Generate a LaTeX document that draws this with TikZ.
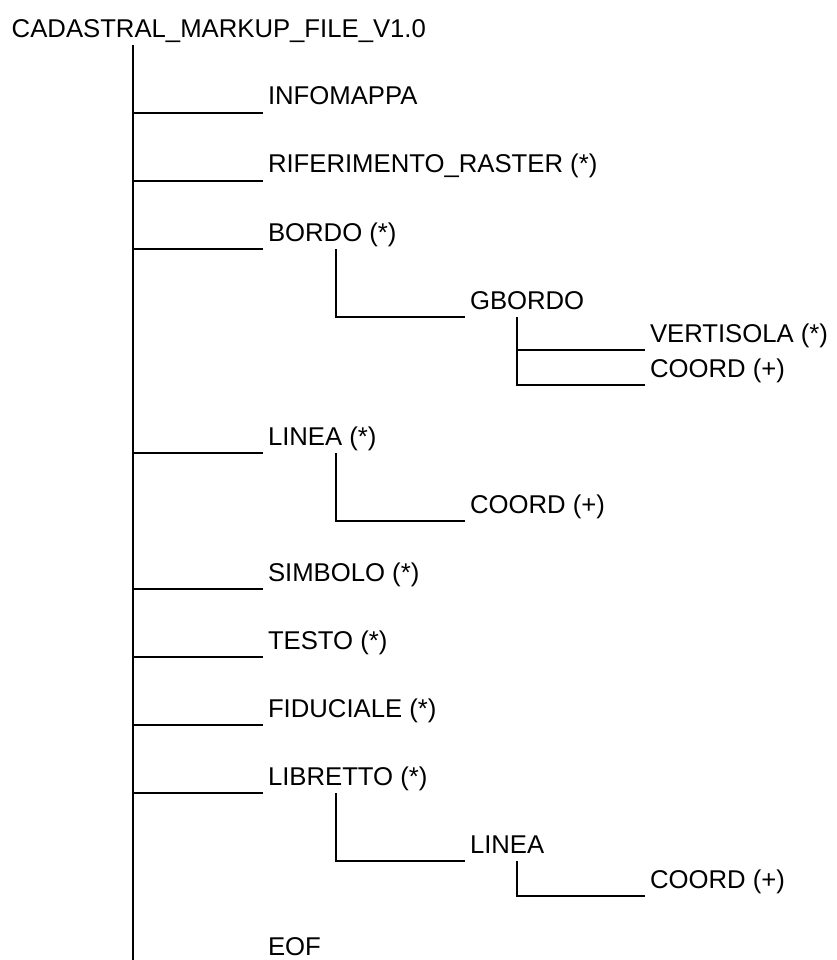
\documentclass[tikz,border=0pt]{standalone}
\usepackage{fontspec}
\setmainfont{Liberation Sans}
\begin{document}
\begin{tikzpicture}[x=1pt,y=-1pt,line width=1.5pt,
     every node/.style = {font=\fontsize{25.7}{30}\selectfont},
     lbl/.style =
     {anchor=south west,inner xsep=5pt,inner ysep=0pt,outer xsep=0pt,
      outer ysep=8pt,text depth=0pt}]
   \useasboundingbox (0,0) rectangle (836,960);
   \node[anchor=base west,inner sep=0pt] (root) at (11,38)
       {CADASTRAL\_MARKUP\_FILE\_V1.0};
   \coordinate (top) at (133,45);
   \coordinate (bottom) at (133,960);
   % first level
   \node[lbl] (info)  at (263,113) {INFOMAPPA};
   \node[lbl] (rif)   at (263,181) {RIFERIMENTO\_RASTER (*)};
   \node[lbl] (bordo) at (263,249) {BORDO (*)};
   \node[lbl] (linea) at (263,453) {LINEA (*)};
   \node[lbl] (simb)  at (263,589) {SIMBOLO (*)};
   \node[lbl] (testo) at (263,657) {TESTO (*)};
   \node[lbl] (fid)   at (263,725) {FIDUCIALE (*)};
   \node[lbl] (libr)  at (263,793) {LIBRETTO (*)};
   \node[lbl] (eof)   at (263,963) {EOF};
   % sub levels
   \node[lbl] (gbordo) at (465,317) {GBORDO};
   \node[lbl] (vert)   at (645,350) {VERTISOLA (*)};
   \node[lbl] (coordA) at (645,385) {COORD (+)};
   \node[lbl] (coordB) at (465,521) {COORD (+)};
   \node[lbl] (lineaB) at (465,861) {LINEA};
   \node[lbl] (coordC) at (645,896) {COORD (+)};
   \draw (top) -- (bottom);
   \foreach \n in {info,rif,bordo,linea,simb,testo,fid,libr}
     \draw (top |- \n.south west) -- (\n.south west);
   \draw ([xshift=73pt]bordo.south west) |- (gbordo.south west);
   \draw ([xshift=52pt]gbordo.south west) |- (vert.south west);
   \draw ([xshift=52pt]gbordo.south west) |- (coordA.south west);
   \draw ([xshift=73pt]linea.south west) |- (coordB.south west);
   \draw ([xshift=73pt]libr.south west) |- (lineaB.south west);
   \draw ([xshift=52pt]lineaB.south west) |- (coordC.south west);
\end{tikzpicture}
\end{document}
